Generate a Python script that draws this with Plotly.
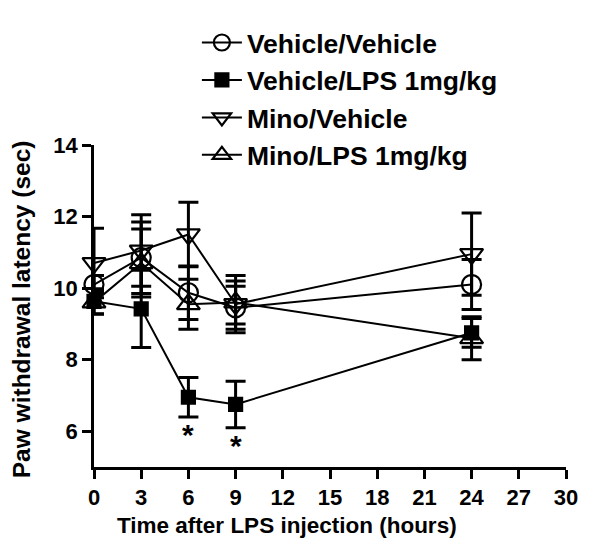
import plotly.graph_objects as go

time_h = [0, 3, 6, 9, 24]
veh_veh = [10.1, 10.85, 9.87, 9.45, 10.1]
veh_veh_err = [0.25, 1.0, 0.75, 0.6, 0.7]
veh_lps = [9.63, 9.42, 6.95, 6.75, 8.75]
veh_lps_err = [0.35, 1.08, 0.55, 0.65, 0.4]
mino_veh = [10.7, 11.05, 11.5, 9.55, 10.95]
mino_veh_err = [0.97, 1.0, 0.9, 0.8, 1.15]
mino_lps = [9.6, 10.7, 9.55, 9.6, 8.6]
mino_lps_err = [0.33, 0.95, 0.7, 0.6, 0.6]
names = ["Vehicle/Vehicle", "Vehicle/LPS 1mg/kg", "Mino/Vehicle", "Mino/LPS 1mg/kg"]
sig_times = [6, 9]
x_ticks = [0, 3, 6, 9, 12, 15, 18, 21, 24, 27, 30]
y_ticks = [6, 8, 10, 12, 14]

FONT = "Liberation Sans"
series = [
    (veh_veh, veh_veh_err, "circle-open", 19),
    (veh_lps, veh_lps_err, "square", 13),
    (mino_veh, mino_veh_err, "triangle-down-open", 20),
    (mino_lps, mino_lps_err, "triangle-up-open", 20),
]

fig = go.Figure()
for i, (vals, errs, sym, sz) in enumerate(series):
    fig.add_trace(go.Scatter(
        x=time_h, y=vals, name=f"<b>{names[i]}</b>", mode="lines+markers",
        legendgroup=f"g{i}",
        line=dict(color="black", width=2),
        marker=dict(symbol=sym, size=sz, color="black", line=dict(color="black", width=2.2)),
        error_y=dict(type="data", array=errs, visible=True, color="black", thickness=3, width=10),
        cliponaxis=False,
    ))

for t in sig_times:
    idx = time_h.index(t)
    fig.add_annotation(x=t, y=veh_lps[idx] - veh_lps_err[idx], text="<b>*</b>",
                       showarrow=False, yanchor="top", yshift=1,
                       font=dict(family=FONT, size=30, color="black"))

# axis titles as annotations (placed as in the original)
fig.add_annotation(x=0.408, y=0, xref="paper", yref="paper", yanchor="middle",
                   yshift=-58, showarrow=False,
                   text="<b>Time after LPS injection (hours)</b>",
                   font=dict(family=FONT, size=22.5, color="black"))
fig.add_annotation(x=0, y=0.49, xref="paper", yref="paper", xanchor="center",
                   yanchor="middle", xshift=-73, showarrow=False, textangle=-90,
                   text="<b>Paw withdrawal latency (sec)</b>",
                   font=dict(family=FONT, size=24.5, color="black"))

fig.update_layout(
    width=593, height=540,
    margin=dict(l=86, r=35, t=137, b=81, autoexpand=False),
    paper_bgcolor="white", plot_bgcolor="white",
    font=dict(family=FONT, color="black"),
    showlegend=True,
    legend=dict(x=0.218, y=1.392, xanchor="left", yanchor="top",
                yref="paper", xref="paper",
                font=dict(family=FONT, size=26.5, color="black"),
                tracegroupgap=0, bgcolor="rgba(0,0,0,0)",
                itemwidth=40),
    xaxis=dict(range=[0, 30], tickvals=x_ticks, ticktext=[f"<b>{v}</b>" for v in x_ticks],
               showline=True, linecolor="black", linewidth=2.5, automargin=False,
               ticks="outside", ticklen=9, tickwidth=2.5, tickcolor="black",
               showgrid=False, zeroline=False,
               tickfont=dict(family=FONT, size=22, color="black")),
    yaxis=dict(range=[5, 14], tickvals=y_ticks, ticktext=[f"<b>{v}</b>" for v in y_ticks],
               showline=True, linecolor="black", linewidth=2.5, automargin=False,
               ticks="outside", ticklen=9, tickwidth=2.5, tickcolor="black",
               showgrid=False, zeroline=False,
               tickfont=dict(family=FONT, size=22, color="black")),
)

fig.write_html("out.html")
